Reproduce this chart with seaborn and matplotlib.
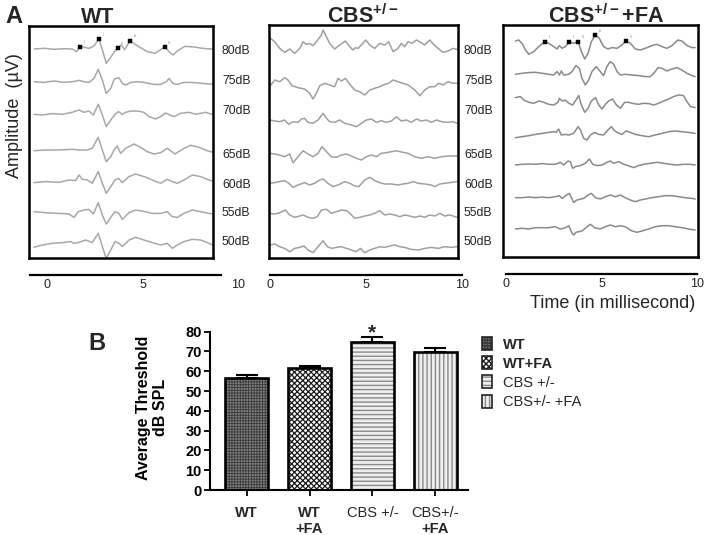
import numpy as np
import pandas as pd
import matplotlib
matplotlib.use("Agg")
import matplotlib.pyplot as plt
import matplotlib.transforms as mtrans
from matplotlib.patches import Rectangle, Patch
from matplotlib.legend_handler import HandlerTuple
import seaborn as sns

sns.set_theme(style="white")
plt.rcParams['font.family'] = ['Liberation Sans', 'DejaVu Sans']
plt.rcParams['mathtext.fontset'] = 'custom'
plt.rcParams['mathtext.rm'] = 'Liberation Sans'
plt.rcParams['mathtext.bf'] = 'Liberation Sans:bold'
plt.rcParams['hatch.linewidth'] = 1.0

# ---------------- DATA ----------------
levels = ['80dB', '75dB', '70dB', '65dB', '60dB', '55dB', '50dB']
peak_names = ['I', 'II', 'III', 'IV', 'V']

# WT traces (time ms, amplitude)
wt80_t = [0.27,0.80,1.34,1.88,2.32,2.55,2.77,2.95,3.21,3.48,3.75,3.96,4.14,4.38,4.61,4.75,4.93,5.13,5.41,5.68,5.98,6.34,6.75,7.05,7.29,7.50,7.71,8.00,8.36,8.84,9.29,9.73,9.95]
wt80_v = [0,0.07,-0.03,0.03,0,-0.27,0.33,0.17,0.07,0.30,1.00,-0.27,-1.43,-0.83,-0.20,0.07,0.40,-0.07,0.83,0.47,0.13,-0.27,-0.43,-0.07,0.23,-0.27,-0.60,-0.13,0.27,0.20,0.07,0,0]
wt75_t = [0.27,0.80,1.34,1.88,2.32,2.68,2.95,3.21,3.48,3.71,3.93,4.14,4.38,4.57,4.68,4.82,5.00,5.18,5.45,5.80,6.16,6.39,6.70,7.05,7.36,7.50,7.71,7.95,8.30,8.75,9.29,9.95]
wt75_v = [0,-0.07,0.07,-0.07,0,0.13,0,-0.07,0.33,1.23,0.17,-1.17,-0.67,0.27,0.33,0.40,-0.17,-0.33,-0.07,0,-0.07,-0.17,-0.27,-0.27,0,0.33,-0.17,-0.27,-0.07,-0.07,-0.17,-0.27]
wt70_t = [0.27,0.71,1.25,1.79,2.32,2.68,2.95,3.21,3.45,3.71,3.93,4.14,4.38,4.61,4.79,5.00,5.18,5.45,5.80,6.16,6.43,6.79,7.05,7.32,7.54,7.77,8.13,8.57,8.93,9.46,9.95]
wt70_v = [0,-0.07,0.07,0,0.20,0.43,0.20,0.33,-0.07,1.00,-0.07,-1.23,-0.57,0,0.27,0,0.20,0.33,0.33,0.20,-0.23,-0.47,-0.23,0.13,-0.07,-0.23,0.10,0.20,0,0.20,-0.07]
wt65_t = [0.27,0.89,1.61,2.32,2.68,3.13,3.39,3.71,3.93,4.14,4.38,4.55,4.73,4.91,5.18,5.63,5.98,6.34,6.70,7.05,7.41,7.59,7.82,8.21,8.66,9.11,9.55,9.95]
wt65_v = [-0.07,0,0,0.07,0,0,0.17,1.27,0,-1.17,-0.67,0,0.40,-0.33,0.17,0.60,0.27,-0.17,-0.40,-0.27,0.17,-0.07,-0.40,0.07,0.47,0.27,-0.07,-0.27]
wt60_t = [0.27,0.89,1.61,2.14,2.50,2.68,2.86,3.13,3.39,3.71,3.93,4.14,4.38,4.61,4.79,5.00,5.36,5.71,6.16,6.61,7.05,7.41,7.68,7.95,8.30,8.75,9.20,9.64,9.95]
wt60_v = [-0.03,0.07,0,0.23,0.17,0.73,0.30,0.23,-0.10,1.07,-0.10,-1.10,-0.43,0.23,0.40,-0.03,0.57,0.83,0.57,0.23,-0.10,0.30,0.07,-0.10,0.23,0.73,0.57,0.23,0.07]
wt55_t = [0.27,0.89,1.61,2.14,2.41,2.64,2.95,3.21,3.45,3.71,3.93,4.14,4.38,4.61,4.82,5.00,5.36,5.71,6.16,6.61,7.05,7.41,7.68,7.95,8.30,8.75,9.20,9.64,9.95]
wt55_v = [0.10,0,-0.07,-0.13,-0.47,0.10,0.27,0.33,-0.13,1.00,-0.23,-1.13,-0.47,0.10,-0.07,-0.67,0,0.27,0.13,-0.07,-0.07,0.10,-0.40,-0.47,-0.07,0.27,0.10,-0.07,-0.13]
wt50_t = [0.27,0.71,1.25,1.79,2.23,2.41,2.64,3.04,3.39,3.71,3.93,4.14,4.38,4.61,4.82,5.00,5.36,5.71,6.16,6.61,7.05,7.41,7.68,7.95,8.30,8.75,9.20,9.64,9.95]
wt50_v = [-0.40,-0.17,0,0.07,0.17,0,0.07,0.33,0.07,1.00,-0.33,-1.50,-0.67,0.17,0,-0.33,0.33,0.60,0.33,0.07,-0.17,0,-0.50,-0.17,0.17,0.40,0.33,0,-0.27]
wt_peaks = [2.74, 3.75, 4.75, 5.41, 7.27]

# CBS+/- traces
cbs80_t = [0.09,0.36,0.63,0.89,1.16,1.43,1.70,1.88,2.05,2.23,2.41,2.59,2.86,2.95,3.13,3.30,3.57,3.84,4.14,4.38,4.55,4.68,4.82,5.00,5.23,5.45,5.71,5.98,6.25,6.46,6.70,6.96,7.14,7.32,7.50,7.71,7.95,8.18,8.39,8.66,8.89,9.11,9.38,9.64,9.91,10.11]
cbs80_v = [0.90,0.50,-0.17,-0.57,-0.23,-0.67,-0.17,0.50,0.23,0.33,0.10,0.50,1.17,1.67,1.00,0.33,-0.23,0.17,0.57,0,-0.33,-0.10,-0.17,0.17,0.67,0.17,-0.17,0.33,0.17,0.50,-0.50,-0.17,0.33,0,0.50,0.33,0.67,0.43,0.17,0.67,0.17,-0.17,-0.57,-0.43,-0.17,-0.27]
cbs75_t = [0.09,0.36,0.63,0.89,1.07,1.29,1.61,1.96,2.23,2.41,2.59,2.77,3.04,3.30,3.57,3.75,3.93,4.14,4.38,4.64,4.91,5.18,5.45,5.71,5.98,6.25,6.46,6.70,6.96,7.23,7.50,7.86,8.13,8.39,8.66,8.93,9.14,9.38,9.64,9.91,10.11]
cbs75_v = [-0.17,0.50,0.33,0.73,0.50,-0.07,-0.27,-0.40,-0.83,-1.40,-0.83,-0.07,0.17,0,-0.17,0.67,0.40,0.67,0.07,-0.50,-0.67,-1.00,-0.50,-0.33,-0.17,0.07,0.17,0.50,0.33,0.17,0,-0.50,-1.07,-0.50,-0.17,-0.17,0.17,0,0.33,0.17,0.17]
cbs70_t = [0.09,0.36,0.63,0.89,1.11,1.34,1.61,1.79,1.96,2.14,2.41,2.68,2.95,3.13,3.30,3.57,3.84,4.11,4.46,4.73,5.00,5.27,5.54,5.80,6.07,6.34,6.61,6.88,7.14,7.41,7.68,7.95,8.21,8.48,8.75,9.02,9.29,9.64,9.91,10.11]
cbs70_v = [0.10,0,-0.07,0.10,-0.33,-0.07,-0.13,0.20,0.27,-0.13,-0.23,0.10,0.77,0.27,-0.07,-0.13,0.10,-0.23,-0.40,-0.57,-0.23,0.10,0.20,-0.13,0.03,-0.13,0,0.43,0,0.10,-0.13,0.20,0,0.10,-0.13,0.10,-0.07,-0.13,-0.07,-0.23]
cbs65_t = [0.09,0.36,0.63,0.89,1.16,1.34,1.61,1.88,2.14,2.41,2.68,2.89,3.13,3.39,3.66,3.93,4.20,4.46,4.73,5.00,5.27,5.54,5.80,6.07,6.34,6.61,6.88,7.14,7.50,7.86,8.21,8.57,8.93,9.29,9.64,10.11]
cbs65_v = [0.17,0.10,0,-0.17,0.10,-0.77,-0.17,0.43,0.10,-0.17,0.17,0.83,0.33,-0.17,-0.23,0,0.10,-0.10,-0.33,-0.50,-0.17,0,-0.17,0.17,0.23,0.33,0.43,0.30,0.17,-0.17,-0.33,-0.17,-0.33,-0.17,-0.10,-0.10]
cbs60_t = [0.09,0.36,0.63,0.89,1.11,1.34,1.61,1.96,2.23,2.50,2.77,2.95,3.21,3.48,3.75,4.11,4.38,4.64,4.86,5.18,5.45,5.71,5.98,6.25,6.61,6.96,7.23,7.50,7.77,8.04,8.39,8.75,8.93,9.20,9.46,9.73,10.11]
cbs60_v = [0,0.07,0.17,0.27,0,-0.40,-0.17,0.07,-0.17,0,0.33,0.43,0,-0.33,-0.17,0.17,0,-0.27,-0.33,0.33,0.60,0.27,0.07,-0.07,-0.07,-0.17,-0.07,0,0.17,0,-0.07,-0.17,-0.33,-0.07,0,0.07,0.17]
cbs55_t = [0.09,0.36,0.63,0.93,1.16,1.43,1.70,1.88,2.14,2.41,2.64,2.86,3.13,3.39,3.66,3.93,4.20,4.38,4.64,4.91,5.18,5.45,5.71,5.98,6.25,6.52,6.79,7.05,7.32,7.59,7.86,8.13,8.39,8.66,8.93,9.20,9.46,9.73,9.91,10.11]
cbs55_v = [0.17,0.10,0.23,0.50,0,-0.23,-0.10,0,-0.23,-0.33,-0.17,0.50,0.57,0.17,0.33,0.50,0.43,0.17,-0.33,-0.23,-0.10,0,0.17,0.43,0,0.10,0,-0.17,0,-0.10,-0.23,-0.10,-0.23,0,-0.10,0.17,-0.10,0,-0.10,-0.23]
cbs50_t = [0.09,0.36,0.63,0.89,1.16,1.43,1.70,1.93,2.14,2.41,2.68,2.95,3.18,3.43,3.66,3.93,4.20,4.46,4.73,4.96,5.18,5.45,5.71,5.98,6.25,6.52,6.79,7.05,7.32,7.68,8.04,8.39,8.75,9.11,9.46,9.82,10.11]
cbs50_v = [0.17,0.27,0,-0.17,-0.50,-0.17,-0.07,0.07,-0.33,-0.60,0,0.60,0,-0.17,-0.07,0,-0.17,-0.33,-0.50,-0.17,-0.60,-0.33,-0.17,0,-0.07,0.07,0.17,0,-0.07,-0.27,-0.33,-0.17,-0.07,-0.17,0,-0.07,0]

# CBS+/- + FA traces
fa80_t = [0.63,0.80,0.97,1.15,1.32,1.57,1.83,2.14,2.34,2.60,2.77,2.89,3.03,3.20,3.40,3.62,3.85,4.02,4.19,4.36,4.53,4.74,4.94,5.16,5.38,5.59,5.85,6.10,6.31,6.53,6.79,7.04,7.30,7.64,7.90,8.15,8.41,8.67,8.97,9.18,9.44,9.69,9.86]
fa80_v = [0.23,0.33,0,-0.67,-1.10,-0.83,-0.33,0.17,0,-0.33,-0.57,-0.23,-0.50,-0.33,0.17,0,0.17,-0.83,-1.57,-1.00,0.17,0.83,0.50,-0.33,-0.57,-0.43,-0.50,-0.17,0.23,0,-0.57,-0.67,-0.50,-0.23,-0.10,-0.33,-0.50,-0.23,0.33,0.23,-0.23,-0.43,-0.43]
fa75_t = [0.63,0.97,1.32,1.66,2.00,2.34,2.60,2.77,2.89,2.99,3.11,3.37,3.54,3.74,3.91,4.05,4.22,4.39,4.56,4.79,4.99,5.16,5.33,5.50,5.68,5.85,6.02,6.27,6.62,6.96,7.30,7.56,7.78,7.95,8.15,8.41,8.67,8.92,9.18,9.44,9.69,9.86]
fa75_v = [0,0.10,0.17,0.20,0.10,0,-0.07,0.27,-0.07,0.33,-0.07,0,0.27,0.87,0.60,-0.40,-1.07,-0.57,0.27,0.77,0.27,-0.13,0.77,1.27,1.00,0.27,-0.07,0,-0.07,-0.13,-0.23,-0.23,0.20,0.67,0.60,0.33,0.53,0.67,0.43,0.10,-0.13,-0.23]
fa70_t = [0.63,0.89,1.06,1.32,1.57,1.83,2.09,2.34,2.60,2.82,2.89,3.03,3.20,3.37,3.57,3.74,3.88,4.02,4.19,4.36,4.53,4.74,4.91,5.08,5.25,5.42,5.62,5.79,6.02,6.24,6.44,6.70,6.96,7.21,7.47,7.73,7.98,8.24,8.50,8.75,9.01,9.26,9.44,9.61,9.86]
fa70_v = [0.57,0.67,0.33,0.10,0,0.23,0.10,-0.10,-0.17,0.10,0.50,0.23,0.33,0,-0.17,0.33,0.77,-0.17,-0.90,-0.50,0.23,0.57,-0.17,-0.57,-0.10,0.23,0.43,-0.10,-0.50,0.10,0.10,-0.03,-0.10,0,-0.03,-0.17,0,0.23,0.43,0.67,0.83,0.77,0.17,-0.33,-0.43]
fa65_t = [0.63,0.97,1.32,1.66,2.00,2.34,2.60,2.72,2.85,2.99,3.20,3.37,3.62,3.85,3.97,4.14,4.31,4.48,4.70,4.91,5.16,5.38,5.56,5.68,5.85,6.10,6.31,6.53,6.79,7.13,7.47,7.81,8.15,8.50,8.84,9.18,9.52,9.86]
fa65_v = [-0.10,0,0.10,0.23,0.33,0.43,0.50,0.43,0.77,0.17,0.23,0.17,0.33,1.00,0.67,-0.17,-0.33,0.17,0.43,0.23,0.17,0.67,1.00,0.67,0.43,0.23,0.57,0.43,0.23,0.10,0,0.17,0.33,0.50,0.57,0.50,0.43,0.33]
fa60_t = [0.63,0.97,1.32,1.66,2.00,2.34,2.68,2.94,3.11,3.33,3.45,3.57,3.71,3.97,4.22,4.43,4.60,4.82,5.08,5.33,5.50,5.68,5.93,6.19,6.41,6.70,6.96,7.21,7.56,7.90,8.24,8.58,8.92,9.26,9.61,9.86]
fa60_v = [-0.07,0,0.03,0,0.07,0,0,0.20,-0.07,0.33,0.27,-0.40,-0.23,-0.13,0.10,0.53,0,-0.13,-0.07,0.20,0.33,0.10,0.27,0,-0.13,-0.33,-0.13,0,0.10,0.20,0.10,0,-0.07,0,0,-0.07]
fa55_t = [0.63,0.97,1.32,1.66,2.00,2.34,2.68,2.89,3.03,3.20,3.40,3.54,3.62,3.79,4.14,4.36,4.53,4.74,4.99,5.25,5.50,5.76,6.02,6.27,6.53,6.79,7.04,7.30,7.64,7.98,8.32,8.67,9.01,9.35,9.69,9.86]
fa55_v = [0,0,0.07,0,0.07,0,0.10,0.20,-0.07,0.20,0.43,-0.13,-0.47,-0.23,-0.07,0.27,0.43,0,-0.13,0.10,0.27,0.10,0.27,0,-0.23,-0.40,-0.23,-0.13,0,0.10,0.20,0.20,0.10,0,-0.07,-0.13]
fa50_t = [0.63,0.97,1.32,1.66,2.00,2.34,2.68,2.94,3.20,3.37,3.54,3.62,3.74,4.05,4.26,4.48,4.70,4.99,5.25,5.50,5.76,6.02,6.27,6.62,6.87,7.13,7.47,7.81,8.15,8.50,8.84,9.18,9.52,9.86]
fa50_v = [0,0.07,0,0.13,0.13,0.13,0.23,0,0.13,0.33,-0.43,-0.60,-0.33,-0.20,0.13,0.47,0.13,0,0.23,0.40,0.23,0.33,0.23,-0.20,-0.33,-0.20,0,0.23,0.33,0.33,0.23,0.13,0,-0.10]
fa_peaks = [2.14, 3.40, 3.85, 4.74, 6.31]

# Bar chart (panel B)
bar_groups = ['WT', 'WT+FA', 'CBS +/-', 'CBS+/- +FA']
bar_values = [56.7, 61.5, 74.9, 69.6]
bar_errors = [1.4, 1.3, 2.6, 2.0]
bar_line1 = ['WT', 'WT', 'CBS +/-', 'CBS+/-']
bar_line2 = ['', '+FA', '', '+FA']

# ---------------- LAYOUT ----------------
W, H = 708, 535
fig = plt.figure(figsize=(W / 100, H / 100), dpi=100)


def add_ax(l, t, w, h):
    return fig.add_axes([l / W, 1 - (t + h) / H, w / W, h / H])


def ftext(x, y, s, **kw):
    return fig.text(x / W, 1 - y / H, s, **kw)


GAIN = 10.0  # px per amplitude unit

panels = [
    dict(traces=[(wt80_t, wt80_v), (wt75_t, wt75_v), (wt70_t, wt70_v), (wt65_t, wt65_v),
                 (wt60_t, wt60_v), (wt55_t, wt55_v), (wt50_t, wt50_v)],
         box=(29, 25.5, 184, 232.5), xlim=(0, 9.86),
         base=[49, 81.7, 114.3, 150, 182.3, 212.7, 243.3],
         color='#a8a8a8', peaks=wt_peaks,
         scale=(30, 221, 274.5), label_shift=17),
    dict(traces=[(cbs80_t, cbs80_v), (cbs75_t, cbs75_v), (cbs70_t, cbs70_v), (cbs65_t, cbs65_v),
                 (cbs60_t, cbs60_v), (cbs55_t, cbs55_v), (cbs50_t, cbs50_v)],
         box=(269.3, 25, 189, 233.3), xlim=(0.07, 10.19),
         base=[46.7, 85, 121, 155, 183.3, 215, 246.7],
         color='#a0a0a0', peaks=None,
         scale=(270, 462, 275), label_shift=0),
    dict(traces=[(fa80_t, fa80_v), (fa75_t, fa75_v), (fa70_t, fa70_v), (fa65_t, fa65_v),
                 (fa60_t, fa60_v), (fa55_t, fa55_v), (fa50_t, fa50_v)],
         box=(502.7, 25, 195.6, 232.3), xlim=(-0.02, 10.02),
         base=[43.3, 74.3, 103.3, 136.7, 164.3, 197.7, 229],
         color='#8a8a8a', peaks=fa_peaks,
         scale=(506, 697, 273.5), label_shift=0),
]

for p in panels:
    l, t, w, h = p['box']
    ax = add_ax(l, t, w, h)
    rows = []
    for lev, (tt, vv), b in zip(levels, p['traces'], p['base']):
        vv = np.asarray(vv, dtype=float)
        rows.append(pd.DataFrame({'t': tt, 'y': b - GAIN * vv, 'level': lev}))
    df = pd.concat(rows, ignore_index=True)
    sns.lineplot(data=df, x='t', y='y', units='level', estimator=None, sort=False,
                 color=p['color'], lw=1.1, ax=ax, legend=False)
    if p['peaks'] is not None:
        t80, v80 = p['traces'][0]
        pk_y = p['base'][0] - GAIN * np.interp(p['peaks'], t80, v80)
        sns.scatterplot(x=p['peaks'], y=pk_y, marker='s', s=8, color='black',
                        edgecolor='black', linewidth=0.3, ax=ax, zorder=5, legend=False)
        for name, px_, py_ in zip(peak_names, p['peaks'], pk_y):
            ax.annotate(name, (px_, py_), xytext=(2.5, 1.6), textcoords='offset points',
                        fontsize=2.5, color='#777777', ha='left', va='bottom')
    ax.set_xlim(*p['xlim'])
    ax.set_ylim(t + h, t)
    ax.set_xticks([]); ax.set_yticks([])
    ax.set_xlabel(''); ax.set_ylabel('')
    for s in ax.spines.values():
        s.set_visible(True); s.set_color('black'); s.set_linewidth(1.8)

    # time scale bar
    x0, x1, yl = p['scale']
    sc = add_ax(x0, yl - 12, x1 - x0, 12)
    sc.patch.set_alpha(0)
    for k in ['top', 'left', 'right']:
        sc.spines[k].set_visible(False)
    sc.spines['bottom'].set_color('black'); sc.spines['bottom'].set_linewidth(1.6)
    sc.set_xlim(0, 10); sc.set_yticks([])
    sc.set_xticks([0, 5, 10]); sc.set_xticklabels(['0', '5', '10'])
    sc.tick_params(axis='x', direction='in', length=6.5, width=1.1, pad=3,
                   labelsize=9, colors='black', labelcolor='#222222')
    if p['label_shift']:
        off = mtrans.ScaledTranslation(p['label_shift'] / 100, 0, fig.dpi_scale_trans)
        for lab in sc.get_xticklabels():
            lab.set_transform(lab.get_transform() + off)

# dB labels
db_y = [51, 81, 110.5, 155, 184.5, 213.3, 242]
for xs in (222, 464):
    for lev, yy in zip(levels, db_y):
        ftext(xs, yy, lev, fontsize=8.7, color='#222222', ha='left', va='center')

# titles
ftext(5, 22.7, 'A', fontsize=17, fontweight='bold', ha='left', va='baseline')
ftext(98, 22.7, 'WT', fontsize=15.5, fontweight='bold', ha='center', va='baseline')
ftext(363, 22.7, r'CBS$^{\mathbf{+/-}}$', fontsize=15.5, fontweight='bold', ha='center', va='baseline')
ftext(606, 22.7, r'CBS$^{\mathbf{+/-}}$+FA', fontsize=15.5, fontweight='bold', ha='center', va='baseline')
ftext(15, 116, 'Amplitude  (\u00b5V)', fontsize=13, rotation=90, ha='center', va='center')
ftext(613, 303, 'Time (in millisecond)', fontsize=13, ha='center', va='center')

# ---------------- PANEL B ----------------
bx = add_ax(209.5, 331.7, 258.5, 158.3)
df_bar = pd.DataFrame({'group': bar_groups, 'value': bar_values})
sns.barplot(data=df_bar, x='group', y='value', order=bar_groups, errorbar=None,
            color='white', width=0.68, ax=bx)
styles = [
    dict(fc='#808080', hatch='++++++', hc='#3a3a3a', hlw=0.6),
    dict(fc='white', hatch='xxxxxx', hc='#1a1a1a', hlw=0.9),
    dict(fc='#eeeeee', hatch='----', hc='#8a8a8a', hlw=1.0),
    dict(fc='#eeeeee', hatch='||||', hc='#8a8a8a', hlw=1.0),
]
handles = []
for patch, st, g in zip(bx.patches, styles, bar_groups):
    patch.set_facecolor(st['fc'])
    patch.set_hatch(st['hatch'])
    patch.set_edgecolor(st['hc'])
    patch.set_linewidth(0)
    try:
        patch.set_hatch_linewidth(st['hlw'])
    except AttributeError:
        pass
    bx.add_patch(Rectangle(patch.get_xy(), patch.get_width(), patch.get_height(),
                           fill=False, edgecolor='black', linewidth=1.9, zorder=3))
    h1 = Patch(facecolor=st['fc'], hatch=st['hatch'], edgecolor=st['hc'], linewidth=0)
    try:
        h1.set_hatch_linewidth(st['hlw'])
    except AttributeError:
        pass
    h2 = Patch(fill=False, edgecolor='#222222', linewidth=1.2)
    handles.append((h1, h2))

bx.errorbar(x=np.arange(len(bar_values)), y=bar_values,
            yerr=[np.zeros(len(bar_errors)), bar_errors], fmt='none',
            ecolor='black', elinewidth=1.5, capsize=8, capthick=1.5, zorder=4)

bx.set_xlim(-0.59, 3.52)
bx.set_ylim(0, 80)
bx.set_yticks(np.arange(0, 81, 10))
bx.set_yticklabels([str(v) for v in range(0, 81, 10)], fontweight='bold', fontsize=10.5)
bx.set_xticks(np.arange(4))
bx.set_xticklabels(['', '', '', ''])
bx.tick_params(axis='y', direction='out', length=4, width=1.3, pad=1.5, colors='black', left=True)
bx.tick_params(axis='x', direction='out', length=4, width=1.3, colors='black', bottom=True)
bx.set_xlabel('')
for k in ['top', 'right']:
    bx.spines[k].set_visible(False)
for k in ['left', 'bottom']:
    bx.spines[k].set_color('black'); bx.spines[k].set_linewidth(1.5)
bx.set_ylabel('Average Threshold\ndB SPL', fontsize=11.5, fontweight='bold',
              linespacing=1.2, color='black')
bx.yaxis.set_label_coords(-0.16, 0.52)

for i, (l1, l2) in enumerate(zip(bar_line1, bar_line2)):
    bx.annotate(l1, (i, 0), xycoords=('data', 'axes fraction'), xytext=(0, -19.2),
                textcoords='offset points', ha='center', va='baseline', fontsize=10.5,
                fontweight='bold' if l1 == 'WT' else 'normal')
    if l2:
        bx.annotate(l2, (i, 0), xycoords=('data', 'axes fraction'), xytext=(0, -31),
                    textcoords='offset points', ha='center', va='baseline', fontsize=10.5,
                    fontweight='bold')

bx.annotate('*', (2, bar_values[2] + bar_errors[2]), xytext=(0, -1.5),
            textcoords='offset points', ha='center', va='baseline', fontsize=15,
            fontweight='bold')

ftext(88, 350, 'B', fontsize=17, fontweight='bold', ha='left', va='baseline')

leg = fig.legend(handles=handles, labels=bar_groups,
                 handler_map={tuple: HandlerTuple(ndivide=1, pad=0)},
                 loc='upper left', bbox_to_anchor=(481.5 / W, 1 - 337 / H),
                 frameon=False, fontsize=10.5, handlelength=0.7, handleheight=1.0,
                 labelspacing=0.32, handletextpad=0.75, borderpad=0, borderaxespad=0)
for i, txt in enumerate(leg.get_texts()):
    txt.set_fontweight('bold' if i < 2 else 'normal')

fig.savefig('out.png', dpi=100)
